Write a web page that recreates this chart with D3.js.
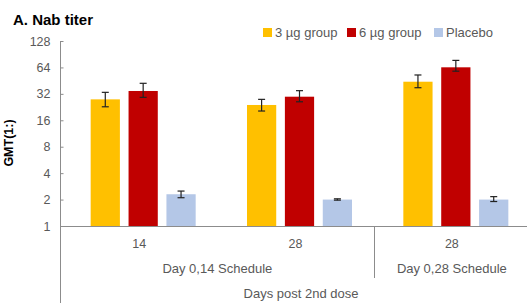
<!DOCTYPE html>
<html><head><meta charset="utf-8">
<script src="https://cdn.jsdelivr.net/npm/d3@7"></script>
<style>body{margin:0;background:#fff}svg{display:block}</style>
</head><body>
<svg id="c" width="527" height="303"></svg>
<script>
const categories = ["14", "28", "28b"];
const categoryLabels = ["14", "28", "28"];
const seriesNames = ["3 µg group", "6 µg group", "Placebo"];
const seriesColors = ["#FFC000", "#C00000", "#B4C7E7"];
const gmt3 = [27.7, 23.9, 44];
const gmt3Lo = [22.8, 20.4, 37.6];
const gmt3Hi = [33.3, 27.7, 52.5];
const gmt6 = [34.5, 29.7, 64.2];
const gmt6Lo = [29.2, 26.0, 58];
const gmt6Hi = [42.2, 34.8, 77];
const gmtP = [2.3, 2.0, 2.0];
const gmtPLo = [2.1, 1.97, 1.9];
const gmtPHi = [2.5, 2.04, 2.16];
const yTicks = [1, 2, 4, 8, 16, 32, 64, 128];
const schedules = ["Day 0,14 Schedule", "Day 0,28 Schedule"];

const FONT = "Liberation Sans, Arial, sans-serif";
const svg = d3.select("#c");
const axisColor = "#8c8c8c", textColor = "#595959";
const y = d3.scaleLog().base(2).domain([1, 128]).range([226, 41]);
const x = d3.scaleBand().domain(categories).range([61, 530]);
const sub = d3.scaleBand().domain(seriesNames).range([0, 105]).paddingInner(8/35);
const groupW = 105 - 8;

const series = [
  {v: gmt3, lo: gmt3Lo, hi: gmt3Hi},
  {v: gmt6, lo: gmt6Lo, hi: gmt6Hi},
  {v: gmtP, lo: gmtPLo, hi: gmtPHi}
];

// title
svg.append("text").attr("x", 13).attr("y", 25).text("A. Nab titer")
  .attr("font-family", FONT).attr("font-weight", "bold")
  .attr("font-size", 15).attr("fill", "#000");

// y label
svg.append("text").attr("transform", "translate(13,143) rotate(-90)")
  .attr("text-anchor", "middle").text("GMT(1:)")
  .attr("font-family", FONT).attr("font-weight", "bold")
  .attr("font-size", 12.5).attr("fill", "#000");

// bars
series.forEach((s, si) => {
  categories.forEach((c, ci) => {
    const bx = x(c) + (x.bandwidth() - groupW) / 2 + sub(seriesNames[si]);
    svg.append("rect").attr("x", bx).attr("width", sub.bandwidth())
      .attr("y", y(s.v[ci])).attr("height", y(1) - y(s.v[ci]))
      .attr("fill", seriesColors[si]);
    const cx = bx + sub.bandwidth() / 2;
    const g = svg.append("g").attr("stroke", "#222").attr("stroke-width", 1.2);
    g.append("line").attr("x1", cx).attr("x2", cx).attr("y1", y(s.hi[ci])).attr("y2", y(s.lo[ci]));
    g.append("line").attr("x1", cx - 3.5).attr("x2", cx + 3.5).attr("y1", y(s.hi[ci])).attr("y2", y(s.hi[ci]));
    g.append("line").attr("x1", cx - 3.5).attr("x2", cx + 3.5).attr("y1", y(s.lo[ci])).attr("y2", y(s.lo[ci]));
  });
});

// y axis
const yAxis = d3.axisRight(y).tickValues(yTicks).tickSize(3).tickFormat(d3.format("d"));
const yg = svg.append("g").attr("transform", "translate(60.5,0)").call(yAxis);
yg.select(".domain").attr("stroke", axisColor).attr("d", "M0,41V303");
yg.selectAll(".tick line").attr("stroke", axisColor);
yg.selectAll(".tick text").attr("x", -10).attr("text-anchor", "end")
  .attr("fill", textColor).attr("font-size", 12.5).attr("font-family", FONT);

// x axis
const xAxis = d3.axisBottom(x).tickSize(0).tickFormat((d, i) => categoryLabels[i]);
const xg = svg.append("g").attr("transform", "translate(0,226.5)").call(xAxis);
xg.select(".domain").attr("stroke", axisColor).attr("d", "M60,0H527");
xg.selectAll(".tick text").attr("y", 13).attr("fill", textColor).attr("font-size", 12.5)
  .attr("font-family", FONT);

// divider
const divX = 374.5;
svg.append("line").attr("x1", divX).attr("x2", divX).attr("y1", 226).attr("y2", 278)
  .attr("stroke", axisColor);

// schedule labels
const sched = [ (x(categories[0]) + x(categories[1]) + x.bandwidth()) / 2, x(categories[2]) + x.bandwidth() / 2 ];
schedules.forEach((s, i) => {
  svg.append("text").attr("x", sched[i]).attr("y", 273).attr("text-anchor", "middle")
    .text(s).attr("fill", textColor).attr("font-size", 13).attr("font-family", FONT);
});
svg.append("text").attr("x", 301).attr("y", 298).attr("text-anchor", "middle")
  .text("Days post 2nd dose").attr("fill", textColor).attr("font-size", 13)
  .attr("font-family", FONT);

// legend
const legX = [263, 347, 434];
seriesNames.forEach((n, i) => {
  svg.append("rect").attr("x", legX[i]).attr("y", 28).attr("width", 9).attr("height", 9)
    .attr("fill", seriesColors[i]);
  svg.append("text").attr("x", legX[i] + 12).attr("y", 37).text(n)
    .attr("fill", textColor).attr("font-size", 13).attr("font-family", FONT);
});
</script>
</body></html>
